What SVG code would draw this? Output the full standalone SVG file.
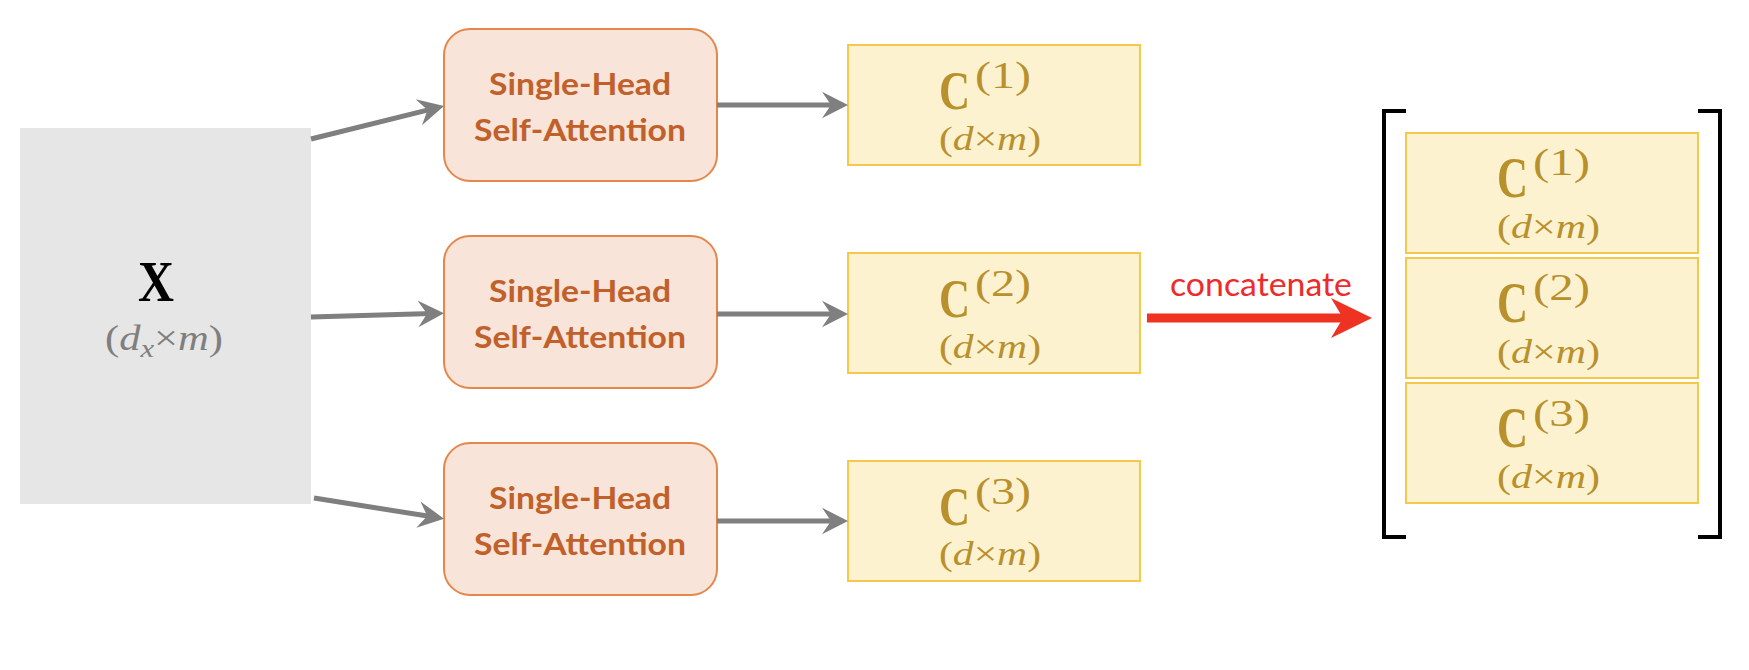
<svg xmlns="http://www.w3.org/2000/svg" width="1749" height="670" viewBox="0 0 1749 670">
<style>
.sha{fill:#f8e4d8;stroke:#e5874a;stroke-width:2}
.shat{font-family:Lato,"Liberation Sans",sans-serif;font-weight:bold;font-size:30px;fill:#c0602a;text-anchor:middle}
.cb{fill:#fcf2d0;stroke:#f4c84a;stroke-width:2}
.cm{font-family:"Liberation Serif",serif;font-weight:bold;fill:#b8902c}
.cs{font-family:"Liberation Serif",serif;fill:#b8902c}
.it{font-style:italic}
.gl{stroke:#7f7f7f;stroke-width:5;fill:none}
</style>
<defs>
<marker id="ga" markerUnits="userSpaceOnUse" markerWidth="30" markerHeight="30" viewBox="0 -15 30 30" refX="14" refY="0" orient="auto">
<path d="M0,-13.3 L26,0 L0,13.3 L9,0 Z" fill="#7f7f7f"/>
</marker>
<marker id="ra" markerUnits="userSpaceOnUse" markerWidth="44" markerHeight="44" viewBox="0 -22 44 44" refX="19" refY="0" orient="auto">
<path d="M0,-20 L41,0 L0,20 L12,0 Z" fill="#ee3322"/>
</marker>
</defs>

<g id="node-x">
<rect x="20" y="128" width="291" height="376" fill="#e6e6e6"/>
<text x="138" y="301" font-family="'Liberation Serif',serif" font-weight="bold" font-size="58" fill="#000" textLength="36" lengthAdjust="spacingAndGlyphs">X</text>
<text x="105" y="350" font-family="'Liberation Serif',serif" font-size="36" fill="#7f7f7f" textLength="118" lengthAdjust="spacingAndGlyphs">(<tspan class="it">d</tspan><tspan class="it" font-size="26" dy="7">x</tspan><tspan dy="-7">×</tspan><tspan class="it">m</tspan>)</text>
</g>

<g id="node-sha1">
<rect class="sha" x="444" y="29" width="273" height="152" rx="26"/>
<text class="shat" x="580" y="95" textLength="182" lengthAdjust="spacingAndGlyphs">Single-Head</text>
<text class="shat" x="580" y="141" textLength="212" lengthAdjust="spacingAndGlyphs">Self-Attention</text>
</g>
<g id="node-sha2">
<rect class="sha" x="444" y="236" width="273" height="152" rx="26"/>
<text class="shat" x="580" y="302" textLength="182" lengthAdjust="spacingAndGlyphs">Single-Head</text>
<text class="shat" x="580" y="348" textLength="212" lengthAdjust="spacingAndGlyphs">Self-Attention</text>
</g>
<g id="node-sha3">
<rect class="sha" x="444" y="443" width="273" height="152" rx="26"/>
<text class="shat" x="580" y="509" textLength="182" lengthAdjust="spacingAndGlyphs">Single-Head</text>
<text class="shat" x="580" y="555" textLength="212" lengthAdjust="spacingAndGlyphs">Self-Attention</text>
</g>

<g id="node-c1">
<rect class="cb" x="848" y="45" width="292" height="120"/>
<text class="cm" x="939" y="109" font-size="54" textLength="31" lengthAdjust="spacingAndGlyphs">C</text>
<text class="cs" x="975" y="88" font-size="37" textLength="56" lengthAdjust="spacingAndGlyphs">(1)</text>
<text class="cs" x="939" y="150" font-size="33" textLength="102" lengthAdjust="spacingAndGlyphs">(<tspan class="it">d</tspan>×<tspan class="it">m</tspan>)</text>
</g>
<g id="node-c2">
<rect class="cb" x="848" y="253" width="292" height="120"/>
<text class="cm" x="939" y="317" font-size="54" textLength="31" lengthAdjust="spacingAndGlyphs">C</text>
<text class="cs" x="975" y="296" font-size="37" textLength="56" lengthAdjust="spacingAndGlyphs">(2)</text>
<text class="cs" x="939" y="358" font-size="33" textLength="102" lengthAdjust="spacingAndGlyphs">(<tspan class="it">d</tspan>×<tspan class="it">m</tspan>)</text>
</g>
<g id="node-c3">
<rect class="cb" x="848" y="461" width="292" height="120"/>
<text class="cm" x="939" y="525" font-size="54" textLength="31" lengthAdjust="spacingAndGlyphs">C</text>
<text class="cs" x="975" y="504" font-size="37" textLength="56" lengthAdjust="spacingAndGlyphs">(3)</text>
<text class="cs" x="939" y="565" font-size="33" textLength="102" lengthAdjust="spacingAndGlyphs">(<tspan class="it">d</tspan>×<tspan class="it">m</tspan>)</text>
</g>

<g id="node-concat">
<path d="M1406,111 H1384 V537 H1406 M1698,111 H1720 V537 H1698" fill="none" stroke="#000" stroke-width="4"/>
<rect class="cb" x="1406" y="133" width="292" height="120"/>
<text class="cm" x="1497" y="197" font-size="57" textLength="31" lengthAdjust="spacingAndGlyphs">C</text>
<text class="cs" x="1533" y="175" font-size="38" textLength="57" lengthAdjust="spacingAndGlyphs">(1)</text>
<text class="cs" x="1497" y="238" font-size="33" textLength="103" lengthAdjust="spacingAndGlyphs">(<tspan class="it">d</tspan>×<tspan class="it">m</tspan>)</text>
<rect class="cb" x="1406" y="258" width="292" height="120"/>
<text class="cm" x="1497" y="322" font-size="57" textLength="31" lengthAdjust="spacingAndGlyphs">C</text>
<text class="cs" x="1533" y="300" font-size="38" textLength="57" lengthAdjust="spacingAndGlyphs">(2)</text>
<text class="cs" x="1497" y="363" font-size="33" textLength="103" lengthAdjust="spacingAndGlyphs">(<tspan class="it">d</tspan>×<tspan class="it">m</tspan>)</text>
<rect class="cb" x="1406" y="383" width="292" height="120"/>
<text class="cm" x="1497" y="447" font-size="57" textLength="31" lengthAdjust="spacingAndGlyphs">C</text>
<text class="cs" x="1533" y="426" font-size="38" textLength="57" lengthAdjust="spacingAndGlyphs">(3)</text>
<text class="cs" x="1497" y="488" font-size="33" textLength="103" lengthAdjust="spacingAndGlyphs">(<tspan class="it">d</tspan>×<tspan class="it">m</tspan>)</text>
</g>

<g id="connectors">
<line class="gl" x1="311" y1="139" x2="432.4" y2="108.9" marker-end="url(#ga)"/>
<line class="gl" x1="311" y1="317" x2="432" y2="313.6" marker-end="url(#ga)"/>
<line class="gl" x1="314" y1="498" x2="432.2" y2="516.8" marker-end="url(#ga)"/>
<line class="gl" x1="717" y1="105" x2="836" y2="105" marker-end="url(#ga)"/>
<line class="gl" x1="717" y1="314" x2="836" y2="314" marker-end="url(#ga)"/>
<line class="gl" x1="717" y1="521" x2="836" y2="521" marker-end="url(#ga)"/>
<line x1="1147" y1="318" x2="1350" y2="318" stroke="#ee3322" stroke-width="9" marker-end="url(#ra)"/>
<text x="1170" y="296" font-family="Lato,'Liberation Sans',sans-serif" font-size="32" fill="#ee2a2a" textLength="182" lengthAdjust="spacingAndGlyphs">concatenate</text>
</g>
</svg>
